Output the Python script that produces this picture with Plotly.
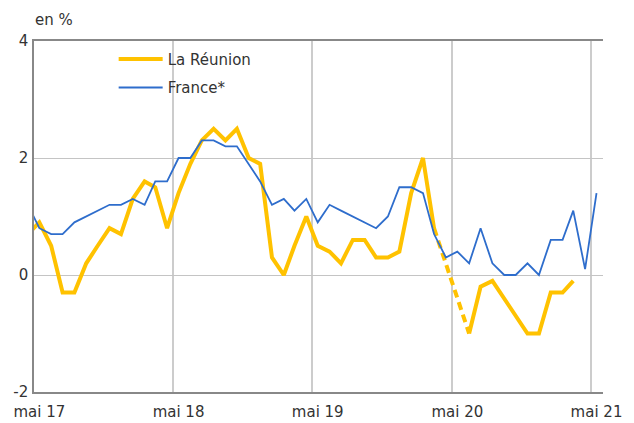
import plotly.graph_objects as go
import pandas as pd

# Monthly dates: April 2017 .. May 2021 (plotted mid-month)
months = [d.strftime("%Y-%m-15") for d in pd.date_range("2017-04-01", "2021-05-01", freq="MS")]

france = [1.2,
          0.8, 0.7, 0.7, 0.9, 1.0, 1.1, 1.2, 1.2, 1.3, 1.2, 1.6, 1.6,
          2.0, 2.0, 2.3, 2.3, 2.2, 2.2, 1.9, 1.6, 1.2, 1.3, 1.1, 1.3,
          0.9, 1.2, 1.1, 1.0, 0.9, 0.8, 1.0, 1.5, 1.5, 1.4, 0.7, 0.3,
          0.4, 0.2, 0.8, 0.2, 0.0, 0.0, 0.2, 0.0, 0.6, 0.6, 1.1, 0.1,
          1.4]

reunion = [0.7,
           0.9, 0.5, -0.3, -0.3, 0.2, 0.5, 0.8, 0.7, 1.3, 1.6, 1.5, 0.8,
           1.4, 1.9, 2.3, 2.5, 2.3, 2.5, 2.0, 1.9, 0.3, 0.0, 0.5, 1.0,
           0.5, 0.4, 0.2, 0.6, 0.6, 0.3, 0.3, 0.4, 1.4, 2.0, 0.8, None,
           None, -1.0, -0.2, -0.1, -0.4, -0.7, -1.0, -1.0, -0.3, -0.3, -0.1, None,
           None]

# dashed bridge over the missing months (lockdown)
reunion_gap = [None] * 35 + [0.8, None, None, -1.0] + [None] * 11

tick_vals = ["2017-05-15", "2018-05-15", "2019-05-15", "2020-05-15", "2021-05-15"]
tick_text = ["mai 17", "mai 18", "mai 19", "mai 20", "mai 21"]
grid_vals = ["2017-05-01", "2018-05-01", "2019-05-01", "2020-05-01", "2021-05-01", "2021-06-01"]

YELLOW = "#FFC200"
BLUE = "#2E6DCC"

fig = go.Figure()
fig.add_trace(go.Scatter(x=months, y=reunion_gap, mode="lines", connectgaps=True,
                         line=dict(color=YELLOW, width=4, dash="8px,5px"),
                         showlegend=False, hoverinfo="skip"))
fig.add_trace(go.Scatter(x=months, y=reunion, mode="lines", name="La Réunion",
                         line=dict(color=YELLOW, width=4), legendgroup="a"))
fig.add_trace(go.Scatter(x=months, y=france, mode="lines", name="France*",
                         line=dict(color=BLUE, width=1.8), legendgroup="b"))

fig.update_layout(
    width=634, height=423,
    margin=dict(l=34, r=31, t=41, b=31),
    paper_bgcolor="white", plot_bgcolor="white",
    font=dict(family="DejaVu Sans", size=15, color="#333333"),
    legend=dict(x=0.14, y=0.995, xanchor="left", yanchor="top",
                bgcolor="rgba(0,0,0,0)", font=dict(size=15, color="#333333"),
                tracegroupgap=6, itemwidth=44),
    annotations=[dict(text="en %", xref="paper", yref="paper", x=0, y=1,
                      xanchor="left", yanchor="middle", yshift=21, xshift=-1,
                      showarrow=False, font=dict(size=15, color="#333333"))],
)
fig.update_xaxes(range=["2017-05-01", "2021-06-01"], tickmode="array",
                 tickvals=tick_vals, ticktext=tick_text, showgrid=False,
                 showline=True, mirror=True, linecolor="#888888", linewidth=1.5,
                 ticks="", zeroline=False, automargin=False, ticklabelstandoff=5,
                 minor=dict(tickmode="array", tickvals=grid_vals, showgrid=True,
                            gridcolor="#cccccc", gridwidth=1.5, ticks=""))
fig.update_yaxes(range=[-2, 4], tickmode="array", tickvals=[-2, 0, 2, 4],
                 ticktext=["-2", "0", "2", "4"], showgrid=True, gridcolor="#c4c4c4",
                 gridwidth=1, showline=True, linecolor="#888888", linewidth=1.5,
                 zeroline=False, ticks="", ticklabelstandoff=1, automargin=False)

fig.write_html("out.html", config={"displayModeBar": False},
               post_script="document.body.style.margin='0';document.body.style.overflow='hidden';")
